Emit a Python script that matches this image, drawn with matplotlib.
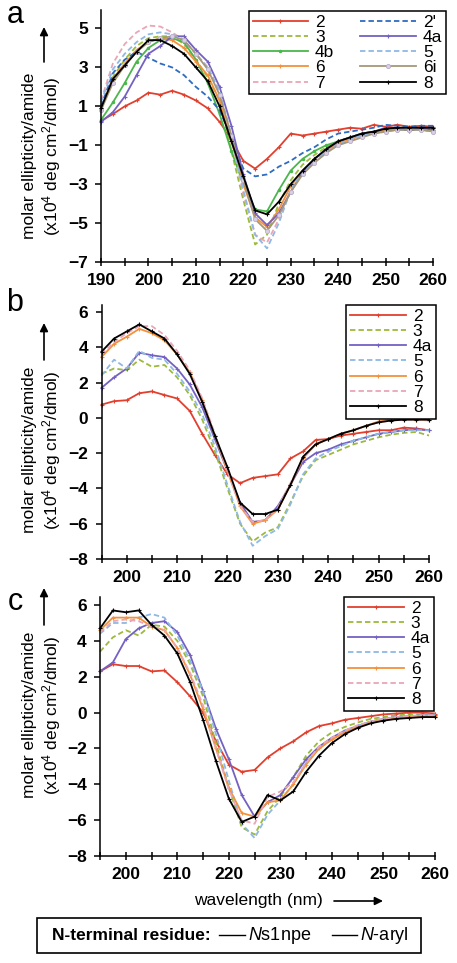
import numpy as np
import matplotlib
matplotlib.use("Agg")
import matplotlib.pyplot as plt
from matplotlib.patches import Rectangle
from matplotlib.lines import Line2D

plt.rcParams['font.family'] = 'Liberation Sans'
plt.rcParams['mathtext.fontset'] = 'custom'
plt.rcParams['mathtext.rm'] = 'Liberation Sans'
plt.rcParams['mathtext.it'] = 'Liberation Sans:italic'
plt.rcParams['mathtext.bf'] = 'Liberation Sans:bold'

# ---- data (molar ellipticity, x10^4 deg cm2/dmol) ----
wl_a = np.arange(190, 261, 2.5)
A_2 = [0.25, 0.6, 1.0, 1.3, 1.7, 1.6, 1.8, 1.6, 1.3, 0.9, 0.2, -0.7, -1.8, -2.2, -1.7,
       -1.1, -0.4, -0.5, -0.4, -0.3, -0.2, -0.1, -0.15, 0.05, -0.05, 0.05, -0.05, 0.0, -0.05]
A_2p = [1.0, 2.7, 3.4, 3.8, 3.5, 3.2, 3.0, 2.6, 2.0, 1.5, 0.8, -0.6, -2.2, -2.6, -2.5,
        -2.1, -1.8, -1.4, -1.1, -0.7, -0.4, -0.3, -0.2, -0.1, 0.05, 0.0, -0.05, 0.0, 0.0]
A_3 = [0.8, 2.5, 3.4, 4.1, 4.5, 4.6, 4.6, 4.2, 3.4, 2.5, 1.3, -1.3, -3.8, -6.1, -5.6,
       -4.0, -2.8, -2.0, -1.5, -1.1, -0.8, -0.6, -0.4, -0.3, -0.2, -0.2, -0.2, -0.2, -0.2]
A_4a = [0.2, 0.7, 1.5, 2.6, 3.7, 4.1, 4.6, 4.6, 3.9, 3.3, 2.0, 0.0, -2.5, -4.5, -5.1,
        -4.5, -3.4, -2.4, -1.7, -1.2, -0.8, -0.6, -0.4, -0.3, -0.1, -0.1, -0.25, -0.1, -0.2]
A_4b = [0.3, 1.2, 2.2, 3.3, 4.0, 4.4, 4.5, 4.3, 3.4, 2.2, 0.6, -1.3, -3.0, -4.3, -4.4,
        -3.3, -2.3, -1.7, -1.3, -1.0, -0.8, -0.6, -0.4, -0.3, -0.2, -0.2, -0.2, -0.2, -0.2]
A_5 = [1.2, 2.9, 3.7, 4.3, 4.7, 4.8, 4.7, 4.4, 3.7, 3.0, 1.8, -0.5, -3.3, -5.6, -6.3,
       -5.0, -3.3, -2.4, -1.8, -1.3, -1.0, -0.7, -0.5, -0.4, -0.3, -0.2, -0.2, -0.2, -0.3]
A_6 = [0.9, 2.4, 3.2, 3.9, 4.3, 4.5, 4.4, 4.0, 3.3, 2.6, 1.3, -0.8, -3.0, -4.7, -5.2,
       -4.3, -3.1, -2.3, -1.7, -1.3, -0.9, -0.7, -0.5, -0.3, -0.2, -0.1, -0.1, -0.1, -0.1]
A_6i = [0.8, 2.2, 3.1, 3.8, 4.3, 4.5, 4.6, 4.4, 3.7, 2.9, 1.6, -0.5, -2.8, -4.8, -5.4,
        -4.6, -3.4, -2.5, -1.9, -1.4, -1.0, -0.8, -0.6, -0.4, -0.3, -0.2, -0.2, -0.2, -0.3]
A_7 = [1.3, 3.2, 4.2, 4.8, 5.15, 5.1, 4.8, 4.4, 3.7, 3.0, 1.7, -0.7, -3.5, -5.6, -6.0,
       -4.8, -3.3, -2.4, -1.8, -1.3, -1.0, -0.7, -0.5, -0.4, -0.3, -0.2, -0.2, -0.2, -0.3]
A_8 = [0.9, 2.4, 3.1, 3.8, 4.4, 4.4, 4.1, 3.7, 3.0, 2.3, 1.0, -0.8, -2.6, -4.35, -4.55,
       -3.9, -3.0, -2.3, -1.7, -1.2, -0.8, -0.6, -0.4, -0.3, -0.15, -0.1, -0.1, -0.1, -0.1]

wl_bc = np.arange(195, 261, 2.5)
B_2 = [0.75, 0.95, 1.0, 1.4, 1.5, 1.3, 1.1, 0.4, -0.9, -2.1, -3.2, -3.7, -3.4, -3.3,
       -3.2, -2.3, -1.9, -1.25, -1.2, -1.0, -0.9, -0.8, -0.7, -0.7, -0.55, -0.6, -0.7]
B_3 = [2.5, 2.8, 2.7, 3.3, 2.9, 3.0, 2.3, 1.3, -0.1, -1.9, -4.0, -6.0, -7.0, -6.5,
       -6.2, -4.8, -3.3, -2.4, -2.1, -1.8, -1.5, -1.3, -1.1, -0.95, -0.85, -0.8, -1.0]
B_4a = [1.7, 2.3, 2.8, 3.7, 3.55, 3.45, 2.8, 1.9, 0.6, -1.2, -3.0, -4.8, -5.9, -5.8,
        -5.0, -3.8, -2.5, -2.0, -1.8, -1.5, -1.3, -1.1, -0.9, -0.8, -0.7, -0.65, -0.7]
B_5 = [2.4, 3.3, 2.8, 3.8, 3.4, 3.3, 2.5, 1.5, 0.2, -1.6, -3.8, -5.9, -7.25, -6.7,
       -6.3, -4.9, -3.2, -2.3, -1.9, -1.6, -1.3, -1.1, -0.9, -0.8, -0.7, -0.7, -0.7]
B_6 = [3.45, 4.2, 4.6, 5.05, 4.8, 4.4, 3.6, 2.6, 1.0, -1.0, -3.0, -5.0, -6.0, -5.8,
       -5.2, -3.8, -2.3, -1.5, -1.2, -0.9, -0.7, -0.45, -0.2, -0.1, -0.05, -0.1, -0.1]
B_7 = [3.6, 4.3, 4.8, 5.2, 5.2, 4.7, 3.8, 2.7, 1.1, -0.9, -3.0, -5.0, -5.9, -5.8,
       -5.1, -3.7, -2.3, -1.5, -1.2, -0.9, -0.7, -0.45, -0.25, -0.15, -0.1, -0.1, -0.15]
B_8 = [3.75, 4.5, 4.9, 5.3, 4.9, 4.5, 3.6, 2.5, 0.9, -1.0, -2.8, -4.8, -5.45, -5.45,
       -5.2, -3.8, -2.2, -1.5, -1.2, -0.9, -0.7, -0.45, -0.25, -0.15, -0.1, -0.1, -0.1]

C_2 = [2.3, 2.7, 2.6, 2.6, 2.3, 2.35, 1.7, 0.9, 0.0, -1.6, -2.9, -3.3, -3.2, -2.5,
       -2.0, -1.6, -1.1, -0.75, -0.6, -0.4, -0.3, -0.2, -0.1, -0.05, 0.0, 0.0, -0.05]
C_3 = [3.4, 4.2, 4.6, 4.3, 4.9, 4.8, 4.0, 2.7, 0.9, -1.7, -4.2, -6.4, -6.8, -5.5,
       -4.7, -3.6, -2.4, -1.6, -1.1, -0.8, -0.55, -0.35, -0.25, -0.15, -0.1, -0.1, -0.1]
C_4a = [2.3, 2.8, 4.1, 4.7, 5.0, 5.1, 4.5, 3.2, 1.2, -0.9, -2.6, -4.6, -5.8, -5.0,
        -4.6, -3.6, -2.6, -1.9, -1.4, -1.0, -0.75, -0.5, -0.35, -0.25, -0.2, -0.15, -0.15]
C_5 = [4.4, 5.0, 5.0, 5.3, 5.5, 5.3, 4.3, 2.9, 1.2, -1.2, -3.8, -6.2, -7.0, -5.7,
       -4.9, -4.0, -2.8, -2.0, -1.5, -1.05, -0.75, -0.5, -0.35, -0.25, -0.2, -0.15, -0.15]
C_6 = [4.6, 5.3, 5.3, 5.3, 4.8, 4.6, 3.6, 2.1, 0.2, -2.0, -4.2, -5.6, -5.8, -5.0,
       -4.9, -4.0, -2.9, -2.0, -1.5, -1.1, -0.8, -0.55, -0.4, -0.3, -0.25, -0.2, -0.2]
C_7 = [4.5, 5.1, 5.2, 5.1, 4.8, 4.6, 3.6, 2.2, 0.4, -2.0, -4.3, -6.0, -6.2, -4.7,
       -4.4, -3.9, -2.8, -1.9, -1.4, -1.0, -0.7, -0.5, -0.35, -0.25, -0.2, -0.15, -0.15]
C_8 = [4.7, 5.7, 5.6, 5.7, 4.9, 4.3, 3.3, 1.7, -0.4, -2.7, -4.8, -6.1, -5.8, -4.6,
       -4.9, -4.4, -3.3, -2.4, -1.7, -1.2, -0.85, -0.6, -0.45, -0.35, -0.3, -0.25, -0.25]

# ---- styles ----
dash = (0, (3.0, 1.7))
styles = {
    '2':  dict(color='#e2402f', ls='-', marker='+', ms=3.5, mew=0.8),
    "2'": dict(color='#2f6cc0', ls=dash),
    '3':  dict(color='#9cba3c', ls=dash),
    '4a': dict(color='#7461c2', ls='-', marker='+', ms=3.5, mew=0.8),
    '4b': dict(color='#4bb64c', ls='-', marker='.', ms=3),
    '5':  dict(color='#8fb9e4', ls=dash),
    '6':  dict(color='#f5913a', ls='-', marker='+', ms=3.5, mew=0.8),
    '6i': dict(color='#a69777', ls='-', marker='o', ms=3, mfc='#d9d0e6', mec='#b9acc8', mew=0.6),
    '7':  dict(color='#e9a6b6', ls=dash),
    '8':  dict(color='black', ls='-', marker='+', ms=3.5, mew=0.8),
}

W, H = 457, 963
fig = plt.figure(figsize=(W / 100, H / 100), dpi=100)


def px_axes(l, t, r, b):
    return fig.add_axes([l / W, 1 - b / H, (r - l) / W, (b - t) / H])


def fx(x):
    return x / W


def fy(y):
    return 1 - y / H


def style_axes(ax, xmin, xmajor, ylim, yticks):
    ax.set_xlim(xmin, 260)
    ax.set_ylim(*ylim)
    ax.set_xticks(xmajor)
    ax.set_xticks(np.arange(xmin, 261, 5), minor=True)
    ax.set_yticks(yticks)
    for s in ['top', 'right']:
        ax.spines[s].set_visible(False)
    for s in ['left', 'bottom']:
        ax.spines[s].set_linewidth(1.1)
    ax.tick_params(axis='x', which='both', direction='inout', length=6, width=1.1, pad=5)
    ax.tick_params(axis='y', direction='out', length=4.5, width=1.1, pad=5)
    for lab in ax.get_xticklabels() + ax.get_yticklabels():
        lab.set_fontweight('bold')
        lab.set_fontsize(12.5)


def draw(ax, wl, series):
    for name, vals in series:
        ax.plot(wl, vals, lw=1.3, label=name, clip_on=False, **styles[name])


ax_a = px_axes(101, 10, 433, 262)
draw(ax_a, wl_a, [('2', A_2), ('3', A_3), ('4b', A_4b), ('6', A_6), ('7', A_7),
                  ("2'", A_2p), ('4a', A_4a), ('5', A_5), ('6i', A_6i), ('8', A_8)])
style_axes(ax_a, 190, np.arange(190, 261, 10), (-7, 5.95), np.arange(-7, 6, 2))

ax_b = px_axes(101.5, 305, 429, 559)
draw(ax_b, wl_bc, [('2', B_2), ('3', B_3), ('4a', B_4a), ('5', B_5), ('6', B_6),
                   ('7', B_7), ('8', B_8)])
style_axes(ax_b, 195, np.arange(200, 261, 10), (-8, 6.4), np.arange(-8, 7, 2))

ax_c = px_axes(100, 597, 435, 856)
draw(ax_c, wl_bc, [('2', C_2), ('3', C_3), ('4a', C_4a), ('5', C_5), ('6', C_6),
                   ('7', C_7), ('8', C_8)])
style_axes(ax_c, 195, np.arange(200, 261, 10), (-8, 6.45), np.arange(-8, 7, 2))

leg_kw = dict(loc='upper right', bbox_transform=fig.transFigure, numpoints=1,
              fontsize=12.5, handlelength=3.2, handletextpad=0.4, labelspacing=0.0,
              borderpad=0.22, borderaxespad=0, fancybox=False, framealpha=1,
              edgecolor='black')
lg = ax_a.legend(ncol=2, columnspacing=1.5, bbox_to_anchor=(fx(446), fy(11)), **leg_kw)
lg.get_frame().set_linewidth(1.1)
lg = ax_b.legend(bbox_to_anchor=(fx(436), fy(305)), **leg_kw)
lg.get_frame().set_linewidth(1.1)
lg = ax_c.legend(bbox_to_anchor=(fx(434), fy(597)), **leg_kw)
lg.get_frame().set_linewidth(1.1)

# panel letters, y labels and arrows
for letter, ly, yc, tail, head in [('a', 15, 156, 62, 27), ('b', 303, 450, 360, 323),
                                   ('c', 602, 715, 625, 588)]:
    fig.text(fx(15), fy(ly), letter, fontsize=22, ha='center', va='center')
    fig.text(fx(30), fy(yc), 'molar ellipticity/amide', rotation=90,
             ha='center', va='center', fontsize=12.5)
    fig.text(fx(52), fy(yc), r'(x10$^4$ deg cm$^2$/dmol)', rotation=90,
             ha='center', va='center', fontsize=12.5)
    ax_a.annotate('', xy=(fx(44), fy(head)), xytext=(fx(44), fy(tail)),
                  xycoords='figure fraction', textcoords='figure fraction',
                  annotation_clip=False,
                  arrowprops=dict(arrowstyle='-|>', lw=1.2, color='black',
                                  mutation_scale=12, shrinkA=0, shrinkB=0))

fig.text(fx(258), fy(900), 'wavelength (nm)', ha='center', va='center', fontsize=12.5)
ax_c.annotate('', xy=(fx(383), fy(901)), xytext=(fx(334), fy(901)),
              xycoords='figure fraction', textcoords='figure fraction',
              annotation_clip=False,
              arrowprops=dict(arrowstyle='-|>', lw=1.2, color='black',
                              mutation_scale=12, shrinkA=0, shrinkB=0))

# bottom key box
fig.add_artist(Rectangle((fx(37), fy(953)), (421 - 37) / W, 35 / H,
                         transform=fig.transFigure, fill=False, lw=1.2, ec='black'))
fig.text(fx(52), fy(935), 'N-terminal residue:', fontweight='bold', fontsize=12.5,
         ha='left', va='center')
fig.add_artist(Line2D([fx(219), fx(245)], [fy(935), fy(935)], transform=fig.transFigure,
                      color='black', lw=1.0))
fig.text(fx(248), fy(935), r'$\mathit{N}$s1npe', fontsize=13, ha='left', va='center')
fig.add_artist(Line2D([fx(332), fx(357)], [fy(935), fy(935)], transform=fig.transFigure,
                      color='black', lw=1.0))
fig.text(fx(360), fy(935), r'$\mathit{N}$-aryl', fontsize=13, ha='left', va='center')

fig.savefig('out.png', dpi=100)
